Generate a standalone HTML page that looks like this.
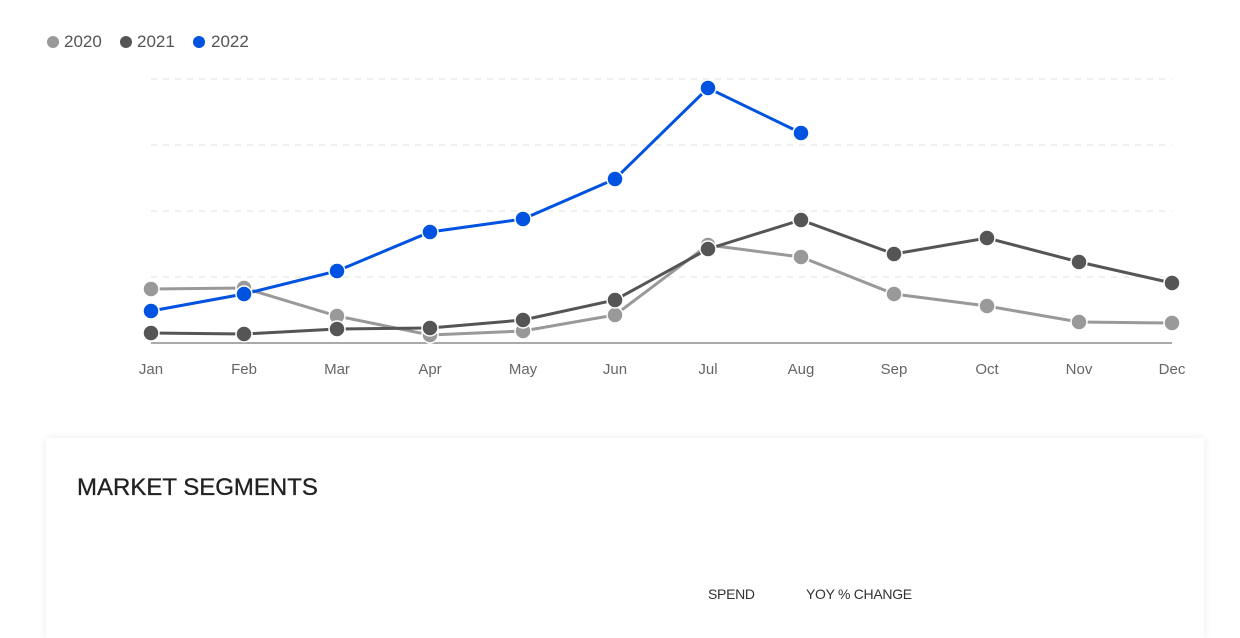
<!DOCTYPE html>
<html><head><meta charset="utf-8"><style>
body{margin:0;background:#fff;width:1240px;height:600px;overflow:hidden;font-family:"Liberation Sans",sans-serif;position:relative}
.card{position:absolute;left:46px;top:438px;width:1158px;height:200px;background:#fff;box-shadow:0 0 8px rgba(0,0,0,0.08)}
.t{position:absolute;color:#333}
</style></head><body>
<svg width="1240" height="420" style="position:absolute;left:0;top:0" font-family="Liberation Sans, sans-serif">
<g font-size="17" fill="#555">
<circle cx="53" cy="42" r="6" fill="#999"/><text x="64" y="47">2020</text>
<circle cx="126" cy="42" r="6" fill="#555"/><text x="137" y="47">2021</text>
<circle cx="199" cy="42" r="6" fill="#0052e0"/><text x="211" y="47">2022</text>
</g>
<g stroke="#e2e2e2" stroke-dasharray="6,6" stroke-width="1">
<line x1="151" x2="1172" y1="79" y2="79"/><line x1="151" x2="1172" y1="145" y2="145"/>
<line x1="151" x2="1172" y1="211" y2="211"/><line x1="151" x2="1172" y1="277" y2="277"/>
</g>
<line x1="151" x2="1172" y1="343" y2="343" stroke="#777" stroke-width="1.3"/>
<g font-size="15" fill="#666" text-anchor="middle">
<text x="151" y="374">Jan</text><text x="244" y="374">Feb</text><text x="337" y="374">Mar</text><text x="430" y="374">Apr</text><text x="523" y="374">May</text><text x="615" y="374">Jun</text><text x="708" y="374">Jul</text><text x="801" y="374">Aug</text><text x="894" y="374">Sep</text><text x="987" y="374">Oct</text><text x="1079" y="374">Nov</text><text x="1172" y="374">Dec</text>
</g>
<g fill="#999" stroke="#fff" stroke-width="1.5">
<polyline fill="none" stroke="#999" stroke-width="3" points="151,289 244,288 337,316 430,335 523,331 615,315 708,245 801,257 894,294 987,306 1079,322 1172,323"/>
<circle cx="151" cy="289" r="8"/><circle cx="244" cy="288" r="8"/><circle cx="337" cy="316" r="8"/><circle cx="430" cy="335" r="8"/><circle cx="523" cy="331" r="8"/><circle cx="615" cy="315" r="8"/><circle cx="708" cy="245" r="8"/><circle cx="801" cy="257" r="8"/><circle cx="894" cy="294" r="8"/><circle cx="987" cy="306" r="8"/><circle cx="1079" cy="322" r="8"/><circle cx="1172" cy="323" r="8"/>
</g>
<g fill="#555" stroke="#fff" stroke-width="1.5">
<polyline fill="none" stroke="#555" stroke-width="3" points="151,333 244,334 337,329 430,328 523,320 615,300 708,249 801,220 894,254 987,238 1079,262 1172,283"/>
<circle cx="151" cy="333" r="8"/><circle cx="244" cy="334" r="8"/><circle cx="337" cy="329" r="8"/><circle cx="430" cy="328" r="8"/><circle cx="523" cy="320" r="8"/><circle cx="615" cy="300" r="8"/><circle cx="708" cy="249" r="8"/><circle cx="801" cy="220" r="8"/><circle cx="894" cy="254" r="8"/><circle cx="987" cy="238" r="8"/><circle cx="1079" cy="262" r="8"/><circle cx="1172" cy="283" r="8"/>
</g>
<g fill="#0052e0" stroke="#fff" stroke-width="1.5">
<polyline fill="none" stroke="#0052e0" stroke-width="3" points="151,311 244,294 337,271 430,232 523,219 615,179 708,88 801,133"/>
<circle cx="151" cy="311" r="8"/><circle cx="244" cy="294" r="8"/><circle cx="337" cy="271" r="8"/><circle cx="430" cy="232" r="8"/><circle cx="523" cy="219" r="8"/><circle cx="615" cy="179" r="8"/><circle cx="708" cy="88" r="8"/><circle cx="801" cy="133" r="8"/>
</g>
</svg>
<div class="card"></div>
<div class="t" style="left:77px;top:474px;font-size:24px;color:#222;-webkit-text-stroke:0.3px #222">MARKET SEGMENTS</div>
<div class="t" style="left:708px;top:586px;font-size:14px;letter-spacing:-0.3px">SPEND</div>
<div class="t" style="left:806px;top:586px;font-size:14px;letter-spacing:-0.3px">YOY % CHANGE</div>
</body></html>
